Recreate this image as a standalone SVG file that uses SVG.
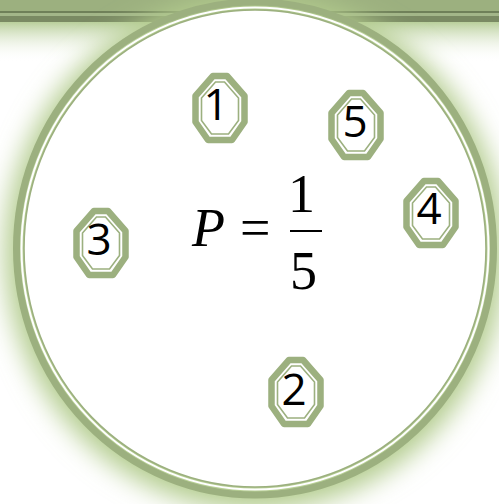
<svg xmlns="http://www.w3.org/2000/svg" width="499" height="504" viewBox="0 0 499 504">
<defs>
<style>
.ring{fill:none;stroke:#9cb07f;stroke-width:7}
.gap{fill:none;stroke:#ffffff;stroke-width:2}
.thin{fill:#ffffff;stroke:#9cb07f;stroke-width:1.6}
.nodeOuter{fill:#ffffff;stroke:#9cb07f;stroke-width:6.5;stroke-linejoin:round}
.nodeInner{fill:#ffffff;stroke:#9cb07f;stroke-width:1.6}
.num{font-family:"Open Sans","Liberation Sans",sans-serif;font-size:44px;fill:#000000;text-anchor:middle}
.math{font-family:"Liberation Serif","Times New Roman",serif;font-size:54px;fill:#000000}
</style>
<filter id="blur" x="-20%" y="-20%" width="140%" height="140%"><feGaussianBlur stdDeviation="13"/></filter>
<linearGradient id="bandGlow" x1="0" y1="0" x2="0" y2="1">
<stop offset="0" stop-color="#b9cf9b"/>
<stop offset="1" stop-color="#ffffff" stop-opacity="0"/>
</linearGradient>
<polygon id="octO" points="-7,-32 7,-32 24.5,-12 24.5,14 12,32 -12,32 -24.5,14 -24.5,-12"/>
<polygon id="octI" points="-4.5,-26 4.5,-26 18.5,-10 18.5,12.5 8.5,26 -8.5,26 -18.5,12.5 -18.5,-10"/>
</defs>
<rect width="499" height="504" fill="#ffffff"/>
<g id="band">
<rect x="0" y="22" width="499" height="40" fill="url(#bandGlow)"/>
<rect x="0" y="0" width="499" height="12" fill="#9cb07f"/>
<rect x="0" y="11" width="499" height="2" fill="#6f8059"/>
<rect x="0" y="13" width="499" height="3" fill="#a3b689"/>
<rect x="0" y="16" width="499" height="6" fill="#7a8a63"/>
</g>
<g id="circle">
<ellipse cx="255" cy="252" rx="250" ry="258" fill="#b3cc8e" filter="url(#blur)"/>
<ellipse class="ring" cx="255" cy="248.5" rx="238.5" ry="246.5"/>
<ellipse class="gap" cx="255" cy="248.5" rx="233.5" ry="241"/>
<ellipse class="thin" cx="255" cy="248.5" rx="231" ry="238.5"/>
</g>
<g id="connectors"></g>
<g id="node1">
<use href="#octO" x="220" y="108" class="nodeOuter"/>
<use href="#octI" x="220" y="108" class="nodeInner"/>
<text class="num" x="216" y="120">1</text>
</g>
<g id="node5">
<use href="#octO" x="356" y="125" class="nodeOuter"/>
<use href="#octI" x="356" y="125" class="nodeInner"/>
<text class="num" x="355" y="137">5</text>
</g>
<g id="node4">
<use href="#octO" x="431" y="213" class="nodeOuter"/>
<use href="#octI" x="431" y="213" class="nodeInner"/>
<text class="num" x="429" y="224">4</text>
</g>
<g id="node3">
<use href="#octO" x="101" y="243" class="nodeOuter"/>
<use href="#octI" x="101" y="243" class="nodeInner"/>
<text class="num" x="99" y="255">3</text>
</g>
<g id="node2">
<use href="#octO" x="296" y="392" class="nodeOuter"/>
<use href="#octI" x="296" y="392" class="nodeInner"/>
<text class="num" x="294" y="405">2</text>
</g>
<g id="formula">
<text class="math" x="192" y="246" font-style="italic">P</text>
<text class="math" x="240" y="246">=</text>
<text class="math" x="288" y="212">1</text>
<rect x="290" y="230" width="32" height="2" fill="#000000"/>
<text class="math" x="290" y="289">5</text>
</g>
</svg>
